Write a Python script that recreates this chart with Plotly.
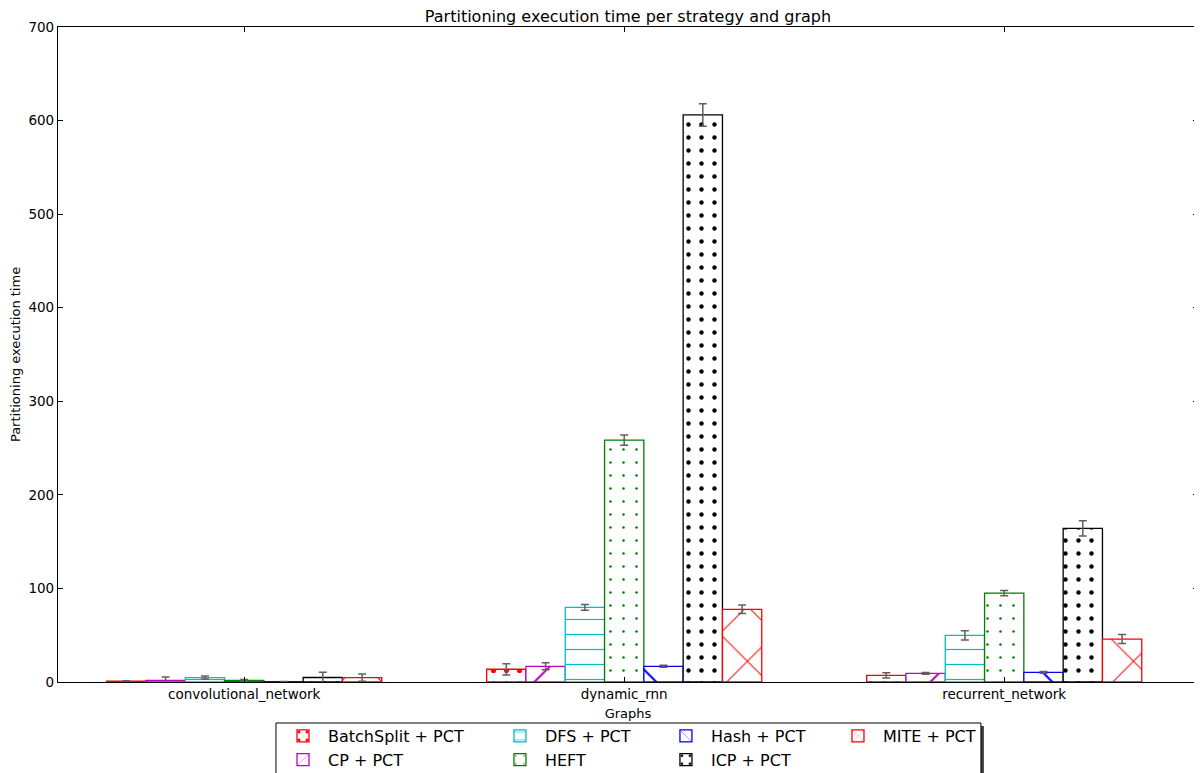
import plotly.graph_objects as go

graphs = ["convolutional_network", "dynamic_rnn", "recurrent_network"]
strategies = ["BatchSplit + PCT", "CP + PCT", "DFS + PCT", "HEFT", "Hash + PCT", "ICP + PCT", "MITE + PCT"]

batchsplit = [0.8, 13.6, 7.1]
batchsplit_err = [0.5, 6.0, 2.8]
cp = [1.8, 16.8, 9.2]
cp_err = [3.5, 3.8, 1.0]
dfs = [4.7, 79.8, 49.9]
dfs_err = [1.6, 3.0, 5.0]
heft = [1.6, 258.5, 95.0]
heft_err = [1.0, 5.5, 2.7]
hash_ = [0.3, 16.8, 10.3]
hash_err = [0.3, 1.0, 1.0]
icp = [4.8, 606.0, 164.2]
icp_err = [5.5, 12.0, 8.2]
mite = [4.7, 77.7, 45.9]
mite_err = [3.8, 4.6, 4.8]

values = [batchsplit, cp, dfs, heft, hash_, icp, mite]
errors = [batchsplit_err, cp_err, dfs_err, heft_err, hash_err, icp_err, mite_err]

colors = ["#ff0000", "#bf00bf", "#00bfbf", "#008000", "#0000ff", "#000000", "#ff0000"]
patterns = [
    dict(shape=".", size=13, solidity=0.12),
    dict(shape="/", size=40, solidity=0.05),
    dict(shape="-", size=15, solidity=0.08),
    dict(shape=".", size=13, solidity=0.03),
    dict(shape="\\", size=40, solidity=0.05),
    dict(shape=".", size=13, solidity=0.09),
    dict(shape="x", size=39, solidity=0.05),
]
legend_names = ["legend", "legend", "legend2", "legend2", "legend3", "legend3", "legend4"]
legend_ranks = [1, 2, 1, 2, 1, 2, 1]

xs = list(range(len(graphs)))
fig = go.Figure()
for k, name in enumerate(strategies):
    p = patterns[k]
    fig.add_trace(go.Bar(
        x=xs, y=values[k], name=name,
        marker=dict(color="white", line=dict(color=colors[k], width=1.3),
                    pattern=dict(shape=p["shape"], size=p["size"], solidity=p["solidity"],
                                 fgcolor=colors[k], bgcolor="white", fgopacity=1,
                                 fillmode="replace")),
        error_y=dict(type="data", array=errors[k], color="#606060", thickness=1.5, width=4),
        legend=legend_names[k], legendrank=legend_ranks[k],
    ))

axis_common = dict(showline=True, linecolor="black", linewidth=1.2, mirror="ticks",
                   ticks="inside", ticklen=5, tickcolor="black", showgrid=False, zeroline=False,
                   automargin=False, tickfont=dict(size=13.5, color="black"))

# page body adds an 8px offset, so the figure is sized/margined to compensate
fig.update_layout(
    width=1194, height=765,
    barmode="group", bargap=0.276, bargroupgap=0,
    plot_bgcolor="white", paper_bgcolor="white",
    font=dict(family="DejaVu Sans", color="black"),
    margin=dict(l=50, r=4, t=19, b=91, autoexpand=False),
    title=dict(text="Partitioning execution time per strategy and graph", x=0.5, xanchor="center",
               xref="paper", y=0.9965, yanchor="top", yref="container", pad=dict(t=0, b=0),
               font=dict(size=16)),
    xaxis=dict(axis_common, tickmode="array", tickvals=xs, ticktext=graphs, range=[-0.49, 2.51],
               title=dict(text="Graphs", font=dict(size=13), standoff=7)),
    yaxis=dict(axis_common, range=[0, 700], dtick=100,
               title=dict(text="Partitioning execution time", font=dict(size=13), standoff=5)),
    showlegend=True,
)

leg_common = dict(orientation="v", yanchor="top", xanchor="left", bgcolor="rgba(0,0,0,0)",
                  xref="paper", yref="paper",
                  font=dict(size=16), itemwidth=40, tracegroupgap=0, itemclick=False)
col_x = [0.1930, 0.3833, 0.5289, 0.6798]
leg_y = -0.0565
fig.update_layout(
    legend=dict(leg_common, x=col_x[0], y=leg_y),
    legend2=dict(leg_common, x=col_x[1], y=leg_y),
    legend3=dict(leg_common, x=col_x[2], y=leg_y),
    legend4=dict(leg_common, x=col_x[3], y=leg_y),
)

# legend frame with shadow (matplotlib style)
fig.add_shape(type="rect", xref="paper", yref="paper", x0=0.1938, x1=0.8122, y0=-0.2, y1=-0.0672,
              line=dict(width=0), fillcolor="#404040", layer="above")
fig.add_shape(type="rect", xref="paper", yref="paper", x0=0.1912, x1=0.8096, y0=-0.2, y1=-0.0626,
              line=dict(color="black", width=1), fillcolor="white", layer="above")

fig.write_html("out.html")
